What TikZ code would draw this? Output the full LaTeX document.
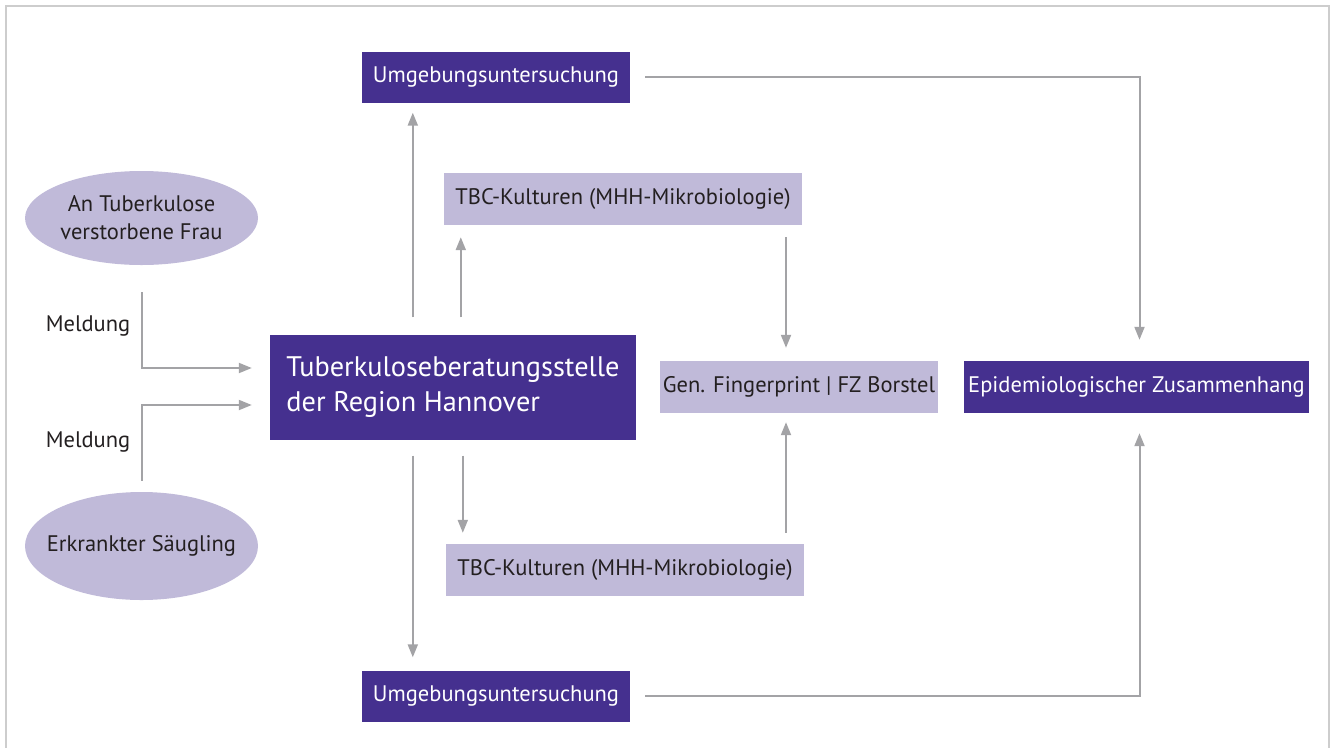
\documentclass[tikz,border=0pt]{standalone}
\usepackage{fontspec}
\setmainfont{PT Sans}
\usetikzlibrary{arrows.meta,calc,positioning,shapes.geometric}
\definecolor{ink}{HTML}{231F20}
\definecolor{violet}{HTML}{45308F}
\definecolor{lilac}{HTML}{C0BAD9}
\definecolor{wire}{HTML}{A3A3A6}
\definecolor{framegray}{HTML}{CDCDCD}
\tikzset{
  basebox/.style={inner sep=0pt,align=center,font=\fontsize{22.5}{28}\selectfont},
  darkbox/.style={basebox,fill=violet,text=white},
  lightbox/.style={basebox,fill=lilac,text=ink},
  casebubble/.style={basebox,ellipse,fill=lilac,text=ink,minimum width=233pt,inner xsep=-30pt},
  arrow/.style={-{Triangle[length=13pt,width=10pt]},line width=2pt,draw=wire},
  lab/.style={font=\fontsize{22.5}{28}\selectfont,text=ink}
}

\begin{document}
\begin{tikzpicture}[
    x=1pt,y=-1pt,
    umgbox/.style={darkbox,minimum width=268pt,minimum height=51pt},
    kulturbox/.style={lightbox,minimum width=358pt,minimum height=52pt}
  ]
    \useasboundingbox (0,0) rectangle (1332,747);
    \draw[framegray,line width=2pt] (6,6) rectangle (1329,770);

    % Meldungen
    \node[casebubble,minimum height=94pt] (frau) at (141.5,218) {An Tuberkulose\\verstorbene Frau};
    \node[casebubble,minimum height=108pt] (saeugling) at (141.5,546) {Erkrankter Säugling};
    \node[lab] (meldO) at (88,326) {Meldung};
    \node[lab] (meldU) at (88,442) {Meldung};

    % Zentrale Stelle
    \node[darkbox,minimum width=366pt,minimum height=105pt,align=left,
          font=\fontsize{28.3}{35}\selectfont] (main) at (453,387) {Tuberkuloseberatungsstelle\\der Region Hannover};

    \node[umgbox] (umgO) at (496,77) {Umgebungsuntersuchung};
    \node[umgbox] (umgU) at (496,696) {Umgebungsuntersuchung};
    \node[kulturbox] (tbcO) at (623,199) {TBC-Kulturen (MHH-Mikrobiologie)};
    \node[kulturbox] (tbcU) at (625,570) {TBC-Kulturen (MHH-Mikrobiologie)};
    \node[lightbox,minimum width=278pt,minimum height=52pt] (gfp) at (799,387) {Gen. Fingerprint | FZ Borstel};
    \node[darkbox,minimum width=345pt,minimum height=52pt] (epi) at (1136.5,387) {Epidemiologischer Zusammenhang};

    \coordinate (inO) at ($(main.west)+(0,-19)$);
    \coordinate (inU) at ($(main.west)+(0,18)$);
    \path (main.north west) ++(143,0) coordinate (upL) ++(48,0) coordinate (upR);
    \path (main.south west) ++(143,0) coordinate (dnL) ++(50,0) coordinate (dnR);
    \coordinate (fpX) at ($(gfp.north)+(-13,0)$);
    \coordinate (epiX) at ($(epi.north)+(3,0)$);

    \draw[arrow,shorten <=27pt,shorten >=18pt] (frau.south) |- (inO);
    \draw[arrow,shorten <=11pt,shorten >=18pt] (saeugling.north) |- (inU);

    \draw[arrow,shorten <=17pt,shorten >=10pt] (upL) -- (upL |- umgO.south);
    \draw[arrow,shorten <=17pt,shorten >=12pt] (upR) -- (upR |- tbcO.south);
    \draw[arrow,shorten <=16pt,shorten >=13pt] (dnL) -- (dnL |- umgU.north);
    \draw[arrow,shorten <=16pt,shorten >=11pt] (dnR) -- (dnR |- tbcU.north);

    \draw[arrow,shorten <=12pt,shorten >=13pt] (fpX |- tbcO.south) -- (fpX);
    \draw[arrow,shorten <=11pt,shorten >=9pt] (fpX |- tbcU.north) -- (fpX |- gfp.south);

    \draw[arrow,shorten <=15pt,shorten >=21pt] (umgO.east) -| (epiX);
    \draw[arrow,shorten <=15pt,shorten >=20pt] (umgU.east) -| (epiX |- epi.south);
  \end{tikzpicture}
\end{document}
